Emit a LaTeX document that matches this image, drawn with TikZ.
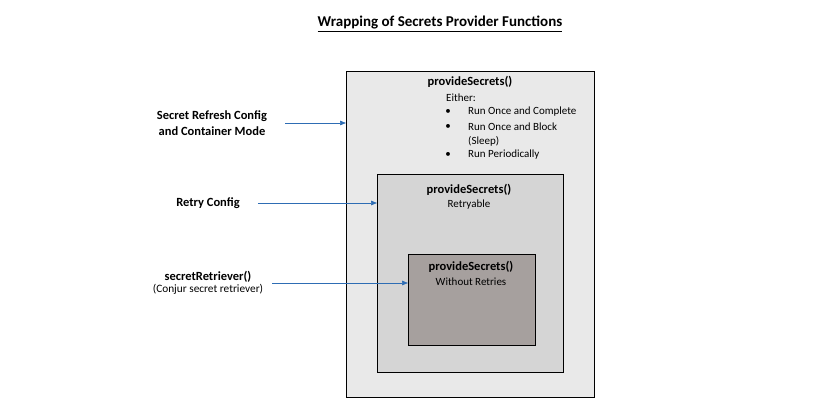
\documentclass[tikz,border=0pt]{standalone}
\usepackage{fontspec}
\setmainfont{Carlito}
\usetikzlibrary{arrows.meta}
\definecolor{outerfill}{HTML}{E9E9E9}
\definecolor{midfill}{HTML}{D5D5D5}
\definecolor{innerfill}{HTML}{A6A09E}
\definecolor{arrowblue}{HTML}{2E6DB4}
\tikzset{
  box/.style={draw=black, line width=0.9pt, anchor=north west, inner sep=0pt},
  lbl/.style={font=\fontsize{12.5}{16}\selectfont\bfseries, align=center, inner sep=0pt},
  txt/.style={font=\fontsize{11}{13}\selectfont, inner sep=0pt},
  btxt/.style={font=\fontsize{12.5}{14}\selectfont\bfseries, inner sep=0pt},
  conn/.style={draw=arrowblue, line width=0.7pt, -{Triangle[length=6pt,width=4.5pt]}}
}
\begin{document}
\begin{tikzpicture}[x=1pt,y=-1pt]
\useasboundingbox (0,0) rectangle (816,419);
% title
\node[font=\fontsize{15}{17}\selectfont\bfseries, inner sep=0pt] (title) at (440,24) {\underline{Wrapping of Secrets Provider Functions}};
% boxes
\node[box, fill=outerfill, minimum width=248pt, minimum height=326pt] (outer) at (346,71) {};
\node[box, fill=midfill, minimum width=186pt, minimum height=198pt] (mid) at (377,174) {};
\node[box, fill=innerfill, minimum width=127pt, minimum height=91pt] (inner) at (408,254) {};
% outer texts
\node[btxt] (ot) at (470,82) {provideSecrets()};
\node[txt, anchor=west] (either) at (446,98) {Either:};
\node[txt] (b1) at (448,112) {\textbullet};
\node[txt] (b2) at (448,127) {\textbullet};
\node[txt] (b3) at (448,155) {\textbullet};
\node[txt, anchor=west] (i1) at (468,112) {Run Once and Complete};
\node[txt, anchor=west] (i2) at (468,127) {Run Once and Block};
\node[txt, anchor=west] (i2b) at (468,141) {(Sleep)};
\node[txt, anchor=west] (i3) at (468,155) {Run Periodically};
% middle texts
\node[btxt] (mt) at (469,190) {provideSecrets()};
\node[txt] (mt2) at (469,205) {Retryable};
% inner texts
\node[btxt] (it) at (471,267) {provideSecrets()};
\node[txt] (it2) at (471,282) {Without Retries};
% left labels
\node[lbl] (l1) at (212,123) {Secret Refresh Config\\and Container Mode};
\node[lbl] (l2) at (208,203) {Retry Config};
\node[align=center, inner sep=0pt] (l3) at (208,283) {{\fontsize{12.5}{16}\selectfont\bfseries secretRetriever()}\\{\fontsize{11.3}{16}\selectfont (Conjur secret retriever)}};
% connectors
\coordinate (s1) at ([xshift=18pt]l1.east);
\coordinate (s2) at ([xshift=18pt]l2.east);
\coordinate (s3) at ([xshift=9pt]l3.east);
\draw[conn] (s1) -- (s1 -| outer.west);
\draw[conn] (s2) -- (s2 -| mid.west);
\draw[conn] (s3) -- (s3 -| inner.west);
\end{tikzpicture}
\end{document}
